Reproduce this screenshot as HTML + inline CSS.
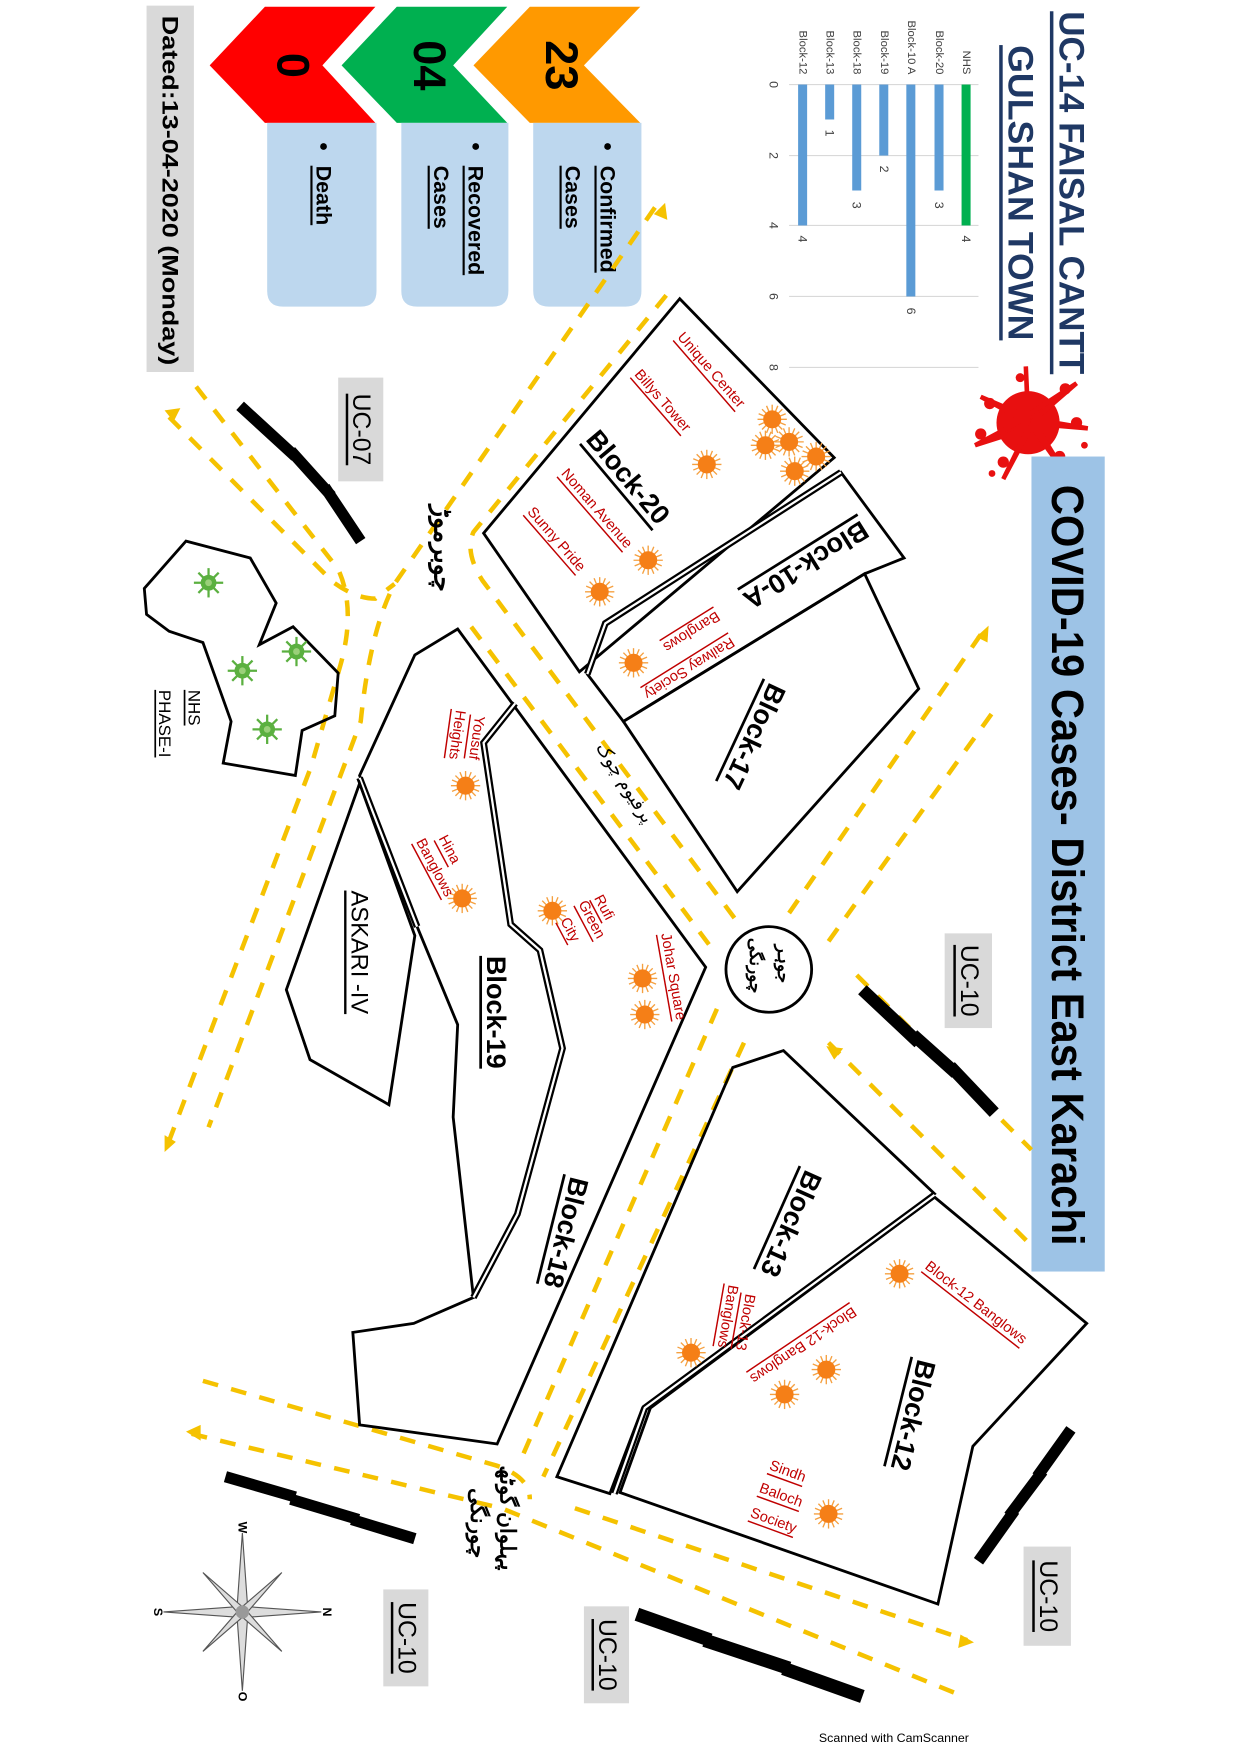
<!DOCTYPE html>
<html><head><meta charset="utf-8"><style>
html,body{margin:0;padding:0;background:#fff;}
svg{display:block;}
text{font-family:"Liberation Sans","Noto Sans CJK SC",sans-serif;}
.u{font-family:"DejaVu Sans","Liberation Sans",sans-serif;}
.rl{fill:#c00000;font-size:13px;text-decoration:underline;}
.bl{font-size:24px;font-weight:bold;text-decoration:underline;}
.y{stroke:#f5c200;stroke-width:4;stroke-dasharray:14 12;fill:none;}
.blk{fill:none;stroke:#000;stroke-width:2.5;}
.dbl{fill:none;stroke:#000;stroke-width:6;}
.dbw{fill:none;stroke:#fff;stroke-width:2;}
.bd{stroke:#000;stroke-width:10;fill:none;}
</style></head><body>
<svg width="1240" height="1754" viewBox="0 0 1100 1556" preserveAspectRatio="none" xmlns="http://www.w3.org/2000/svg">
<defs>
<g id="sun"><g stroke="#f5a040" stroke-width="1.2"><line x1="-13" y1="0" x2="13" y2="0"/><line x1="0" y1="-13" x2="0" y2="13"/><line x1="-9" y1="-9" x2="9" y2="9"/><line x1="-9" y1="9" x2="9" y2="-9"/><line x1="-12" y1="-5" x2="12" y2="5"/><line x1="-5" y1="-12" x2="5" y2="12"/><line x1="-12" y1="5" x2="12" y2="-5"/><line x1="5" y1="-12" x2="-5" y2="12"/></g><circle r="8" fill="#f57f17"/></g>
<g id="vir"><g stroke="#5bb040" stroke-width="2"><line x1="-13" y1="0" x2="13" y2="0"/><line x1="0" y1="-13" x2="0" y2="13"/><line x1="-9" y1="-9" x2="9" y2="9"/><line x1="-9" y1="9" x2="9" y2="-9"/></g><circle r="7" fill="#5bb040"/><circle r="3" fill="#9ad07a"/></g>
</defs>

<!-- header texts -->
<text x="950" y="10" transform="rotate(90 950 10)" font-size="31" font-weight="bold" fill="#1f3864" text-decoration="underline" dominant-baseline="central" textLength="322" lengthAdjust="spacingAndGlyphs">UC-14 FAISAL CANTT</text>
<text x="905" y="40" transform="rotate(90 905 40)" font-size="31" font-weight="bold" fill="#1f3864" text-decoration="underline" dominant-baseline="central" textLength="262" lengthAdjust="spacingAndGlyphs">GULSHAN TOWN</text>

<!-- splat -->
<g fill="#e81010">
<circle cx="912" cy="375" r="28"/>
<circle cx="878" cy="358" r="5"/><circle cx="870" cy="385" r="5"/><circle cx="890" cy="410" r="5"/><circle cx="940" cy="405" r="5"/><circle cx="955" cy="375" r="5"/><circle cx="945" cy="345" r="5"/><circle cx="905" cy="335" r="4"/><circle cx="880" cy="420" r="3"/><circle cx="962" cy="395" r="3"/>
<path d="M912,375 L870,352 L912,370 L865,395 L912,380 L890,425 L915,378 L945,420 L918,376 L965,380 L918,372 L955,340 L912,368 L910,325 Z" stroke="#e81010" stroke-width="4"/>
</g>

<!-- title bar -->
<rect x="915" y="405" width="65" height="723" fill="#9dc3e6"/>
<text x="947" y="430" transform="rotate(90 947 430)" font-size="40" font-weight="bold" fill="#000" dominant-baseline="central" textLength="675" lengthAdjust="spacingAndGlyphs">COVID-19 Cases- District East Karachi</text>

<!-- chart -->
<g stroke="#d9d9d9" stroke-width="1">
<line x1="700" y1="75" x2="868" y2="75"/><line x1="700" y1="138" x2="868" y2="138"/><line x1="700" y1="200" x2="868" y2="200"/><line x1="700" y1="263" x2="868" y2="263"/><line x1="700" y1="326" x2="868" y2="326"/>
</g>
<rect x="853" y="75" width="8" height="125" fill="#00b050"/>
<rect x="829" y="75" width="8" height="94" fill="#5b9bd5"/>
<rect x="804" y="75" width="8" height="188" fill="#5b9bd5"/>
<rect x="780" y="75" width="8" height="63" fill="#5b9bd5"/>
<rect x="756" y="75" width="8" height="94" fill="#5b9bd5"/>
<rect x="732" y="75" width="8" height="31" fill="#5b9bd5"/>
<rect x="708" y="75" width="8" height="125" fill="#5b9bd5"/>
<g font-size="10" fill="#404040" text-anchor="end" dominant-baseline="central">
<text x="857" y="66" transform="rotate(90 857 66)">NHS</text>
<text x="833" y="66" transform="rotate(90 833 66)">Block-20</text>
<text x="808" y="66" transform="rotate(90 808 66)">Block-10 A</text>
<text x="784" y="66" transform="rotate(90 784 66)">Block-19</text>
<text x="760" y="66" transform="rotate(90 760 66)">Block-18</text>
<text x="736" y="66" transform="rotate(90 736 66)">Block-13</text>
<text x="712" y="66" transform="rotate(90 712 66)">Block-12</text>
</g>
<g font-size="11" fill="#404040" text-anchor="middle" dominant-baseline="central">
<text x="857" y="212" transform="rotate(90 857 212)">4</text>
<text x="833" y="182" transform="rotate(90 833 182)">3</text>
<text x="808" y="276" transform="rotate(90 808 276)">6</text>
<text x="784" y="150" transform="rotate(90 784 150)">2</text>
<text x="760" y="182" transform="rotate(90 760 182)">3</text>
<text x="736" y="118" transform="rotate(90 736 118)">1</text>
<text x="712" y="212" transform="rotate(90 712 212)">4</text>
<text x="686" y="75" transform="rotate(90 686 75)">0</text>
<text x="686" y="138" transform="rotate(90 686 138)">2</text>
<text x="686" y="200" transform="rotate(90 686 200)">4</text>
<text x="686" y="263" transform="rotate(90 686 263)">6</text>
<text x="686" y="326" transform="rotate(90 686 326)">8</text>
</g>

<!-- chevrons -->
<polygon points="186,58 235,6 333,6 286,58 333,109 235,109" fill="#ff0000"/>
<polygon points="303,58 352,6 450,6 402,58 450,109 352,109" fill="#00b050"/>
<polygon points="420,58 470,6 568,6 518,58 568,109 470,109" fill="#ff9900"/>
<g font-size="40" font-weight="bold" fill="#000" text-anchor="middle" dominant-baseline="central">
<text x="260" y="58" transform="rotate(90 260 58)">0</text>
<text x="381" y="58" transform="rotate(90 381 58)">04</text>
<text x="498" y="58" transform="rotate(90 498 58)">23</text>
</g>
<path d="M237,109 H334 V258 Q334,272 320,272 H251 Q237,272 237,258 Z" fill="#bdd7ee"/>
<path d="M356,109 H451 V258 Q451,272 437,272 H370 Q356,272 356,258 Z" fill="#bdd7ee"/>
<path d="M473,109 H569 V258 Q569,272 555,272 H487 Q473,272 473,258 Z" fill="#bdd7ee"/>
<g font-size="19" font-weight="bold" fill="#000" dominant-baseline="central">
<circle cx="539" cy="130" r="3"/><text x="539" y="147" transform="rotate(90 539 147)" text-decoration="underline">Confirmed</text>
<text x="508" y="147" transform="rotate(90 508 147)" text-decoration="underline">Cases</text>
<circle cx="422" cy="130" r="3"/><text x="422" y="147" transform="rotate(90 422 147)" text-decoration="underline">Recovered</text>
<text x="391" y="147" transform="rotate(90 391 147)" text-decoration="underline">Cases</text>
<circle cx="287" cy="130" r="3"/><text x="287" y="147" transform="rotate(90 287 147)" text-decoration="underline">Death</text>
</g>

<!-- date -->
<rect x="130" y="5" width="42" height="325" fill="#d9d9d9"/>
<text x="151" y="14" transform="rotate(90 151 14)" font-size="20" font-weight="bold" fill="#000" dominant-baseline="central" textLength="310" lengthAdjust="spacingAndGlyphs">Dated:13-04-2020 (Monday)</text>

<!-- yellow roads -->
<g class="y">
<path d="M581,184 L350,518 Q328,560 320,640 L185,1000"/>
<path d="M174,343 L300,505 Q316,540 302,590 L276,680 L150,1012"/>
<path d="M150,370 L295,516 Q315,531 333,531 L350,518"/>
<path d="M591,262 L420,472 Q412,490 428,515 L652,815"/>
<path d="M418,556 L632,842"/>
<path d="M700,810 L872,560"/>
<path d="M735,835 L882,630"/>
<path d="M735,925 L915,1105"/>
<path d="M760,865 L915,1020"/>
<path d="M636,895 L462,1295"/>
<path d="M660,925 L482,1310"/>
<path d="M180,1225 L440,1300 Q470,1310 470,1330"/>
<path d="M170,1272 L445,1338 L850,1503"/>
<path d="M510,1338 L858,1455"/>
</g>
<g fill="#f5c200">
<polygon points="590,180 592,195 580,190"/>
<polygon points="146,364 160,362 154,374"/>
<polygon points="146,1022 146,1007 156,1013"/>
<polygon points="877,555 876,570 866,565"/>
<polygon points="733,928 748,930 740,940"/>
<polygon points="165,1270 178,1264 178,1278"/>
<polygon points="864,1457 850,1462 852,1450"/>
</g>

<!-- boundaries -->
<g class="bd">
<path d="M213,360 L262,405 M258,400 L294,440 M288,432 L320,480"/>
<path d="M765,878 L815,925 M810,918 L848,952 M843,946 L882,987" stroke-width="11"/>
<path d="M950,1268 L920,1310 M925,1305 L895,1345 M900,1340 L868,1385"/>
<path d="M565,1432 L630,1455 M625,1455 L700,1480 M695,1480 L765,1505" stroke-width="12"/>
<path d="M200,1310 L262,1328 M258,1330 L318,1348 M312,1348 L368,1365"/>
</g>

<!-- UC labels -->
<g fill="#d9d9d9">
<rect x="300" y="335" width="40" height="92"/>
<rect x="838" y="828" width="42" height="84"/>
<rect x="908" y="1372" width="42" height="88"/>
<rect x="518" y="1425" width="40" height="86"/>
<rect x="340" y="1410" width="40" height="86"/>
</g>
<g font-size="22" fill="#000" text-decoration="underline" text-anchor="middle" dominant-baseline="central">
<text x="320" y="381" transform="rotate(90 320 381)">UC-07</text>
<text x="859" y="870" transform="rotate(90 859 870)">UC-10</text>
<text x="929" y="1416" transform="rotate(90 929 1416)">UC-10</text>
<text x="538" y="1468" transform="rotate(90 538 1468)">UC-10</text>
<text x="360" y="1453" transform="rotate(90 360 1453)">UC-10</text>
</g>

<!-- blocks -->
<polygon class="blk" points="603,265 740,406 514,596 429,473"/>
<polygon class="blk" points="746,419 802,495 767,509 553,640 521,598 537,553"/>
<polyline class="dbl" points="521,598 537,553 746,419"/><polyline class="dbw" points="521,598 537,553 746,419"/>
<polygon class="blk" points="553,640 767,509 815,611 654,791"/>
<circle cx="682" cy="860" r="38" fill="#fff" stroke="#000" stroke-width="2.5"/>
<polygon class="blk" points="406,558 626,858 441,1281 319,1264 313,1182 367,1174 420,1151 402,991 406,909 370,822 319,688 368,581"/>
<polyline class="dbl" points="420,1151 459,1077 499,930 479,843 453,820 429,659 457,624"/><polyline class="dbw" points="420,1151 459,1077 499,930 479,843 453,820 429,659 457,624"/>
<polyline class="dbl" points="319,690 370,822"/><polyline class="dbw" points="319,690 370,822"/>
<polygon class="blk" points="319,695 368,830 345,980 275,940 254,878"/>
<polygon class="blk" points="650,947 695,932 829,1059 570,1249 541,1325 494,1310"/>
<polygon class="blk" points="829,1062 964,1174 863,1283 832,1423 550,1324 577,1249"/>
<polyline class="dbl" points="829,1060 572,1249 545,1325"/><polyline class="dbw" points="829,1060 572,1249 545,1325"/>
<polygon class="blk" points="128,522 165,480 222,495 245,535 230,572 260,556 300,597 297,635 268,648 262,688 198,677 205,640 180,570 150,560 130,545"/>
<use href="#vir" x="185" y="517"/><use href="#vir" x="263" y="578"/><use href="#vir" x="215" y="595"/><use href="#vir" x="237" y="647"/>
<text x="172" y="612" transform="rotate(90 172 612)" font-size="15" text-decoration="underline" dominant-baseline="central">NHS</text>
<text x="146" y="612" transform="rotate(90 146 612)" font-size="15" text-decoration="underline" dominant-baseline="central">PHASE-I</text>

<!-- suns -->
<use href="#sun" x="685" y="372"/><use href="#sun" x="700" y="392"/><use href="#sun" x="724" y="405"/><use href="#sun" x="679" y="395"/><use href="#sun" x="705" y="418"/>
<use href="#sun" x="627" y="412"/><use href="#sun" x="575" y="497"/><use href="#sun" x="532" y="525"/><use href="#sun" x="562" y="588"/>
<use href="#sun" x="413" y="697"/><use href="#sun" x="410" y="797"/><use href="#sun" x="490" y="808"/><use href="#sun" x="570" y="868"/><use href="#sun" x="572" y="900"/>
<use href="#sun" x="613" y="1200"/><use href="#sun" x="798" y="1130"/><use href="#sun" x="733" y="1215"/><use href="#sun" x="696" y="1237"/><use href="#sun" x="735" y="1343"/>

<!-- red labels -->
<g class="rl" dominant-baseline="central">
<text x="603" y="297" transform="rotate(49 603 297)">Unique Center</text>
<text x="565" y="330" transform="rotate(49 565 330)">Billys Tower</text>
<text x="500" y="418" transform="rotate(49 500 418)">Noman Avenue</text>
<text x="470" y="452" transform="rotate(49 470 452)">Sunny Pride</text>
<text x="637" y="545" transform="rotate(148 637 545)">Banglows</text>
<text x="650" y="568" transform="rotate(148 650 568)">Railway Society</text>
<text x="425" y="635" transform="rotate(98 425 635)">Yousuf</text>
<text x="408" y="630" transform="rotate(98 408 630)">Heights</text>
<text x="392" y="742" transform="rotate(62 392 742)">Hina</text>
<text x="372" y="745" transform="rotate(62 372 745)">Banglows</text>
<text x="530" y="795" transform="rotate(62 530 795)">Rufi</text>
<text x="516" y="800" transform="rotate(62 516 800)">Green</text>
<text x="500" y="815" transform="rotate(62 500 815)">City</text>
<text x="590" y="828" transform="rotate(80 590 828)">Johar Square</text>
<text x="665" y="1148" transform="rotate(100 665 1148)">Block-13</text>
<text x="650" y="1140" transform="rotate(100 650 1140)">Banglows</text>
<text x="758" y="1162" transform="rotate(146 758 1162)">Block-12 Banglows</text>
<text x="822" y="1122" transform="rotate(38 822 1122)">Block-12 Banglows</text>
<text x="683" y="1300" transform="rotate(20 683 1300)">Sindh</text>
<text x="674" y="1320" transform="rotate(20 674 1320)">Baloch</text>
<text x="666" y="1342" transform="rotate(20 666 1342)">Society</text>
</g>

<!-- block labels -->
<g class="bl" dominant-baseline="central">
<text x="525" y="385" transform="rotate(50 525 385)">Block-20</text>
<text x="768" y="468" transform="rotate(148 768 468)">Block-10-A</text>
<text x="690" y="608" transform="rotate(115 690 608)">Block-17</text>
<text x="440" y="848" transform="rotate(90 440 848)">Block-19</text>
<text x="514" y="1045" transform="rotate(104 514 1045)">Block-18</text>
<text x="722" y="1040" transform="rotate(114 722 1040)">Block-13</text>
<text x="822" y="1207" transform="rotate(104 822 1207)">Block-12</text>
</g>
<text x="318" y="790" transform="rotate(90 318 790)" font-size="21" text-decoration="underline" dominant-baseline="central">ASKARI -IV</text>

<!-- urdu -->
<g class="u" fill="#000" font-weight="bold" dominant-baseline="central">
<text x="392" y="448" transform="rotate(90 392 448)" font-size="22">چوبرموڑ</text>
<text x="533" y="660" transform="rotate(58 533 660)" font-size="16" font-weight="normal">پرفیوم چوک</text>
<text x="695" y="838" transform="rotate(90 695 838)" font-size="15">جوہر</text>
<text x="670" y="832" transform="rotate(90 670 832)" font-size="15">چورنگی</text>
<text x="450" y="1300" transform="rotate(90 450 1300)" font-size="19">پہلوان گوٹھ</text>
<text x="424" y="1320" transform="rotate(90 424 1320)" font-size="19">چورنگی</text>
</g>

<!-- compass -->
<g transform="translate(215,1430)">
<g stroke="#555" stroke-width="1" fill="#ddd">
<polygon points="-70,0 0,-5 70,0 0,5"/>
<polygon points="0,-70 5,0 0,70 -5,0"/>
<polygon points="-35,-35 3,-2 35,35 -3,2"/>
<polygon points="-35,35 2,3 35,-35 -2,-3"/>
</g>
<circle r="6" fill="#999"/>
<g font-size="11" font-weight="bold" text-anchor="middle" dominant-baseline="central">
<text x="75" y="0" transform="rotate(90 75 0)">N</text>
<text x="-75" y="0" transform="rotate(90 -75 0)">S</text>
<text x="0" y="-75" transform="rotate(90 0 -75)">W</text>
<text x="0" y="75" transform="rotate(90 0 75)">O</text>
</g>
</g>

<text x="793" y="1542" font-size="11" fill="#000" text-anchor="middle" dominant-baseline="central">Scanned with CamScanner</text>
</svg>
</body></html>
